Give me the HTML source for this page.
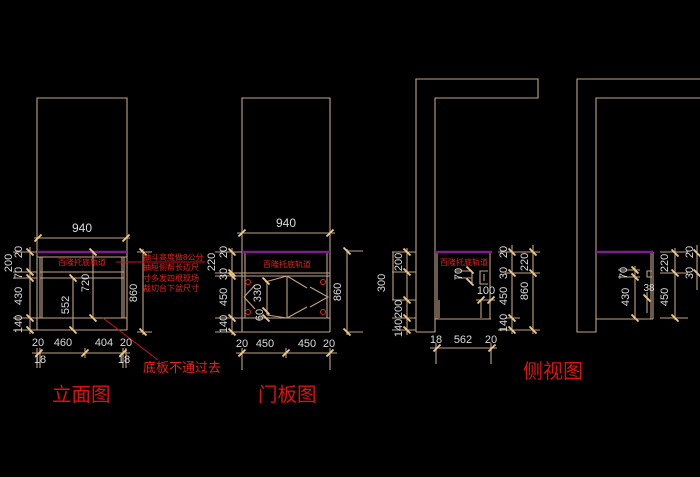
<!DOCTYPE html>
<html>
<head>
<meta charset="utf-8">
<style>
html,body{margin:0;padding:0;background:#000;}
svg{display:block;}
.d{fill:#dcdcdc;font-family:"Liberation Sans",sans-serif;font-size:11px;text-anchor:middle;}
.r{fill:#e8201c;font-family:"Liberation Sans","Noto Sans CJK SC",sans-serif;}
</style>
</head>
<body>
<svg width="700" height="477" viewBox="0 0 700 477" xmlns="http://www.w3.org/2000/svg">
<rect width="700" height="477" fill="#000"/>

<!-- main linework -->
<g stroke="#c2a283" stroke-width="1.1" fill="none">
  <!-- cabinet 1 -->
  <path d="M37 330 V98 H127 V330"/>
  <path d="M34 238 H130"/>
  <path d="M37 257 H127 M40 257 V318 M42 257 V318 M122 257 V318 M124 257 V318 M40 272 H124 M40 278 H124 M37 318 H127 M37 330 H127"/>
  <path d="M73 278 V330 M93 252 V318 M86 318 H103 M88 252 H103"/>
  <path d="M143 249 V335 M137 252 H152 M137 332 H152"/>
  <path d="M30 247 V334 M13 252 H37 M13 272 H37 M13 278 H37 M13 318 H37 M13 330 H37"/>
  <path d="M32 353 H130 M37 348 V368 M40 348 V368 M123 348 V368 M126 348 V368 M85 348 V358"/>

  <!-- cabinet 2 -->
  <path d="M242 332 V98 H330 V332"/>
  <path d="M237 233 H335"/>
  <path d="M242 273 H330 M242 276 H330 M245 252 V318 M327 252 V318 M242 318 H330 M242 332 H330 M287 276 V318"/>
  <path d="M265 282 L287 276 M267 282 V315 M267 315 L287 318 M244 297 L255 285 M244 297 L255 309 M287 276 L307 288 M287 318 L307 307 M310 287 L328 297 L310 307"/>
  <path d="M232 248 V335 M215 252 H242 M215 273 H242 M215 276 H242 M215 318 H242 M215 332 H242"/>
  <path d="M347 249 V335 M347 251 H363 M347 332 H363"/>
  <path d="M236 353 H337 M242 348 V370 M330 348 V370 M286 348 V358"/>

  <!-- cabinet 3 (side view) -->
  <path d="M416 332 V79 H538 V98 H435 V332 H416"/>
  <path d="M437 252 V319 M490 252 V319 M435 319 H491 M439 300 V318"/>
  <path d="M488 271 H480 V284 H488 M484 274 V281 M455 271 H472 M455 278 H472 M472 272 V285"/>
  <path d="M476 300 H495 M481 300 V318"/>
  <path d="M407 248 V335 M393 252 V300 M392 252 H416 M392 272 H416 M392 300 H416 M392 318 H416 M392 330 H416"/>
  <path d="M512 245 V334 M533 245 V334 M498 252 H540 M505 273 H540 M505 318 H520 M498 330 H540"/>
  <path d="M430 348 H497 M436 343 V364 M491 343 V364"/>

  <!-- cabinet 4 (side view) -->
  <path d="M700 79 H577 V332 H596 V98 H700"/>
  <path d="M651 252 V319 M653 252 V319 M596 319 H653"/>
  <path d="M652 271 H647 V277 H652 M618 270 H640 M618 277 H640 M635 266 V319 M647 292 V313"/>
  <path d="M675 248 V320 M660 252 H688 M660 273 H688 M660 318 H688 M697 245 V290"/>
</g>

<!-- purple countertops -->
<g stroke="#7d1d8c" stroke-width="2.6">
  <line x1="37" y1="252" x2="127" y2="252"/>
  <line x1="242" y1="252" x2="330" y2="252"/>
  <line x1="435" y1="252" x2="492" y2="252"/>
  <line x1="596" y1="252" x2="653" y2="252"/>
</g>

<!-- ticks -->
<g stroke="#f0cc80" stroke-width="1.8">
  <!-- horizontal dims "/" -->
  <path d="M34.5 241.5 L41.5 234.5 M122.5 241.5 L129.5 234.5
           M238.5 236.5 L245.5 229.5 M326.5 236.5 L333.5 229.5
           M35.5 356.5 L42.5 349.5 M81.5 356.5 L88.5 349.5 M119.5 356.5 L126.5 349.5
           M238.5 356.5 L245.5 349.5 M282.5 356.5 L289.5 349.5 M326.5 356.5 L333.5 349.5
           M433.5 351.5 L440.5 344.5 M488.5 351.5 L495.5 344.5
           M477.5 303.5 L484.5 296.5 M487.5 303.5 L494.5 296.5"/>
  <!-- vertical dims "\" -->
  <path d="M26.5 248.5 L33.5 255.5 M26.5 268.5 L33.5 275.5 M26.5 274.5 L33.5 281.5 M26.5 314.5 L33.5 321.5 M26.5 326.5 L33.5 333.5
           M69.5 274.5 L76.5 281.5 M69.5 326.5 L76.5 333.5 M89.5 248.5 L96.5 255.5 M89.5 314.5 L96.5 321.5
           M139.5 248.5 L146.5 255.5 M139.5 328.5 L146.5 335.5
           M228.5 248.5 L235.5 255.5 M228.5 269.5 L235.5 276.5 M228.5 272.5 L235.5 279.5 M228.5 314.5 L235.5 321.5 M228.5 328.5 L235.5 335.5
           M343.5 247.5 L350.5 254.5 M343.5 328.5 L350.5 335.5
           M262.5 277.5 L269.5 284.5 M262.5 307.5 L269.5 314.5 M262.5 314.5 L269.5 321.5
           M403.5 248.5 L410.5 255.5 M403.5 268.5 L410.5 275.5 M403.5 296.5 L410.5 303.5 M403.5 314.5 L410.5 321.5 M403.5 326.5 L410.5 333.5
           M466.5 266.5 L473.5 273.5 M466.5 278.5 L473.5 285.5
           M508.5 248.5 L515.5 255.5 M508.5 269.5 L515.5 276.5 M508.5 314.5 L515.5 321.5 M508.5 326.5 L515.5 333.5
           M529.5 248.5 L536.5 255.5 M529.5 269.5 L536.5 276.5 M529.5 326.5 L536.5 333.5
           M631.5 266.5 L638.5 273.5 M631.5 273.5 L638.5 280.5 M631.5 314.5 L638.5 321.5
           M643.5 294.5 L650.5 301.5
           M671.5 249.5 L678.5 256.5 M671.5 269.5 L678.5 276.5 M671.5 314.5 L678.5 321.5
           M693.5 249.5 L700.5 256.5 M693.5 269.5 L700.5 276.5"/>
</g>

<!-- red circles (door hinges) -->
<g stroke="#e8201c" stroke-width="1" fill="none">
  <circle cx="248" cy="282" r="2.5"/>
  <circle cx="323" cy="282" r="2.5"/>
  <circle cx="248" cy="312" r="2.5"/>
  <circle cx="323" cy="312" r="2.5"/>
</g>

<!-- red leader lines -->
<g stroke="#c81515" stroke-width="1">
  <line x1="116" y1="262" x2="205" y2="262"/>
  <line x1="103" y1="318" x2="158" y2="360"/>
</g>

<!-- horizontal dimension text -->
<g class="d">
  <text x="82" y="232" font-size="12">940</text>
  <text x="286" y="227" font-size="12">940</text>
  <text x="38" y="346">20</text>
  <text x="63" y="346">460</text>
  <text x="104" y="346">404</text>
  <text x="126" y="346">20</text>
  <text x="40" y="363">18</text>
  <text x="124" y="363">18</text>
  <text x="242" y="347">20</text>
  <text x="265" y="347">450</text>
  <text x="307" y="347">450</text>
  <text x="329" y="347">20</text>
  <text x="486" y="294">100</text>
  <text x="436" y="343">18</text>
  <text x="463" y="343">562</text>
  <text x="491" y="343">20</text>
  <text x="649" y="291" font-size="10">38</text>
</g>

<!-- rotated dimension text -->
<g class="d">
  <text transform="translate(8,263) rotate(-90)" dy="0.35em">200</text>
  <text transform="translate(18,252) rotate(-90)" dy="0.35em">20</text>
  <text transform="translate(18,273) rotate(-90)" dy="0.35em">70</text>
  <text transform="translate(18,296) rotate(-90)" dy="0.35em">430</text>
  <text transform="translate(18,324) rotate(-90)" dy="0.35em">140</text>
  <text transform="translate(65,305) rotate(-90)" dy="0.35em">552</text>
  <text transform="translate(85,283) rotate(-90)" dy="0.35em">720</text>
  <text transform="translate(133,293) rotate(-90)" dy="0.35em">860</text>

  <text transform="translate(211,262) rotate(-90)" dy="0.35em">220</text>
  <text transform="translate(223,252) rotate(-90)" dy="0.35em">20</text>
  <text transform="translate(223,274) rotate(-90)" dy="0.35em">30</text>
  <text transform="translate(223,297) rotate(-90)" dy="0.35em">450</text>
  <text transform="translate(223,324) rotate(-90)" dy="0.35em">140</text>
  <text transform="translate(257,293) rotate(-90)" dy="0.35em">330</text>
  <text transform="translate(259,315) rotate(-90)" dy="0.35em">60</text>
  <text transform="translate(337,292) rotate(-90)" dy="0.35em">860</text>

  <text transform="translate(398,262) rotate(-90)" dy="0.35em">200</text>
  <text transform="translate(381,283) rotate(-90)" dy="0.35em">300</text>
  <text transform="translate(398,309) rotate(-90)" dy="0.35em">200</text>
  <text transform="translate(398,328) rotate(-90)" dy="0.35em">140</text>
  <text transform="translate(458,274) rotate(-90)" dy="0.35em">70</text>
  <text transform="translate(503,252) rotate(-90)" dy="0.35em">20</text>
  <text transform="translate(503,273) rotate(-90)" dy="0.35em">30</text>
  <text transform="translate(503,296) rotate(-90)" dy="0.35em">450</text>
  <text transform="translate(503,323) rotate(-90)" dy="0.35em">140</text>
  <text transform="translate(524,262) rotate(-90)" dy="0.35em">220</text>
  <text transform="translate(524,291) rotate(-90)" dy="0.35em">860</text>

  <text transform="translate(623,273) rotate(-90)" dy="0.35em">70</text>
  <text transform="translate(625,297) rotate(-90)" dy="0.35em">430</text>
  <text transform="translate(664,263) rotate(-90)" dy="0.35em">220</text>
  <text transform="translate(664,297) rotate(-90)" dy="0.35em">450</text>
  <text transform="translate(689,252) rotate(-90)" dy="0.35em">20</text>
  <text transform="translate(689,273) rotate(-90)" dy="0.35em">30</text>
</g>

<!-- red small labels -->
<g class="r" font-size="8">
  <text x="58" y="265">百隆托底轨道</text>
  <text x="263" y="267">百隆托底轨道</text>
  <text x="440" y="265">百隆托底轨道</text>
  <text x="143" y="260">抽斗高度做8公分</text>
  <text x="143" y="270">抽屉侧帮长边尺</text>
  <text x="143" y="281">寸多发四根现场</text>
  <text x="143" y="291">裁切台下盆尺寸</text>
</g>

<text class="r" x="143" y="372" font-size="13">底板不通过去</text>

<!-- big titles -->
<g class="r" style="fill:#e01010">
  <text x="52" y="401" font-size="19.5">立面图</text>
  <text x="258" y="401" font-size="19.5">门板图</text>
  <text x="523" y="378" font-size="20">侧视图</text>
</g>
</svg>
</body>
</html>
